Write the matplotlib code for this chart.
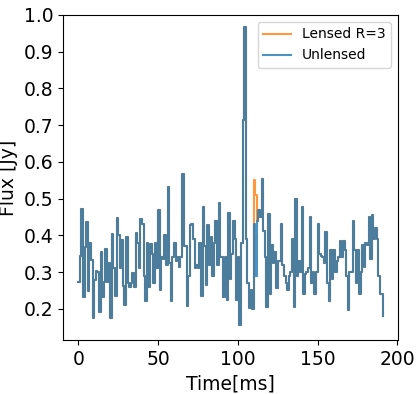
import numpy as np
import matplotlib
matplotlib.use('Agg')
import matplotlib.pyplot as plt

# flux per 1 ms bin
unlensed = [
    0.274, 0.344, 0.471, 0.231, 0.367, 0.436, 0.249, 0.38, 0.333, 0.175,
    0.279, 0.304, 0.30, 0.19, 0.356, 0.231, 0.274, 0.362, 0.274, 0.325,
    0.175, 0.405, 0.31, 0.235, 0.447, 0.40, 0.31,
    0.388, 0.261, 0.211, 0.395, 0.27, 0.26, 0.27, 0.298, 0.26, 0.407,
    0.38, 0.31, 0.445, 0.43, 0.29, 0.22, 0.38, 0.26, 0.376, 0.35,
    0.27, 0.38, 0.31, 0.47, 0.25, 0.34, 0.335, 0.40, 0.32,
    0.531, 0.324, 0.22, 0.34, 0.38, 0.33, 0.34, 0.315, 0.34, 0.567,
    0.37, 0.37, 0.208, 0.29, 0.428, 0.43, 0.39, 0.31, 0.32, 0.31,
    0.38, 0.235, 0.478, 0.37, 0.265, 0.428, 0.32, 0.395, 0.29, 0.38,
    0.438, 0.32, 0.488, 0.34, 0.34, 0.233, 0.34, 0.224, 0.46, 0.28,
    0.35, 0.44, 0.39, 0.224, 0.34, 0.156, 0.38, 0.714, 0.966, 0.39,
    0.27, 0.203, 0.25, 0.20,
    0.43, 0.29, 0.44, 0.47, 0.45, 0.553, 0.413,
    0.34, 0.206, 0.459, 0.24, 0.374, 0.324, 0.356, 0.256, 0.33, 0.33,
    0.43, 0.32, 0.29, 0.27, 0.25, 0.29, 0.30, 0.39, 0.206, 0.498,
    0.29, 0.33, 0.30, 0.478, 0.24, 0.295, 0.30, 0.31, 0.45, 0.27,
    0.30, 0.24, 0.30, 0.43, 0.35, 0.345, 0.34, 0.325, 0.41, 0.27, 0.22,
    0.36, 0.28, 0.36, 0.30, 0.33, 0.34, 0.385, 0.34, 0.385, 0.36,
    0.29, 0.198, 0.30, 0.30, 0.44, 0.36, 0.27, 0.36, 0.24, 0.30,
    0.375, 0.315, 0.38, 0.375, 0.45, 0.335, 0.456, 0.39, 0.42, 0.39,
    0.29, 0.24, 0.24, 0.18,
]

# lensed curve only differs from the unlensed one in two bins
lensed = list(unlensed)
lensed[110] = 0.551
lensed[111] = 0.51

time = np.arange(len(unlensed))
yticks = [0.2, 0.3, 0.4, 0.5, 0.6, 0.7, 0.8, 0.9, 1.0]

fig = plt.figure(figsize=(4.2, 3.94), dpi=100)
ax = fig.add_axes([0.15, 0.137, 0.798, 0.825])

ax.step(time, lensed, where='post', color='tab:orange', alpha=0.8, lw=1.5, label='Lensed R=3')
ax.step(time, unlensed, where='post', color='tab:blue', alpha=0.8, lw=1.5, label='Unlensed')

ax.set_ylim(0.115, 1.0)
ax.set_yticks(yticks)
ax.set_xticks([0, 50, 100, 150, 200])
ax.set_xlabel('Time[ms]', fontsize=13.5)
ax.set_ylabel('Flux [Jy]', fontsize=13.5)
ax.tick_params(labelsize=13.5)
ax.legend(loc='upper right', fontsize=10)

plt.savefig('out.png')
